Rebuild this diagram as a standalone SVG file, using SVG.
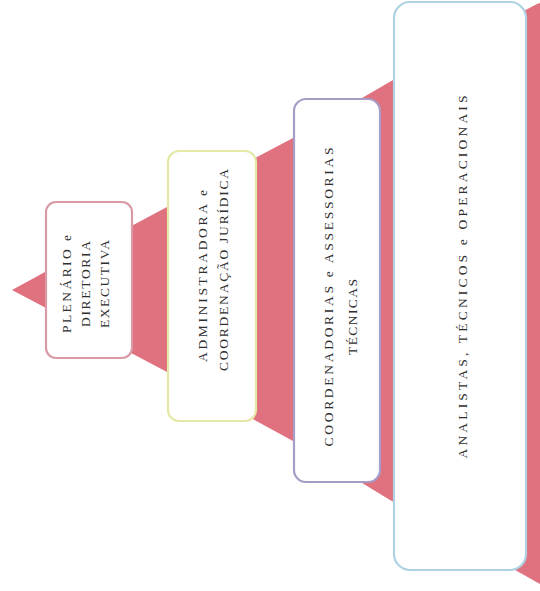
<svg xmlns="http://www.w3.org/2000/svg" width="540" height="591" viewBox="0 0 540 591">
<style>
.box{fill:#ffffff;stroke-width:2.2}
.t{font-family:"Liberation Serif",serif;font-size:13.5px;fill:#2e2e2e;text-anchor:middle}
</style>
<rect width="540" height="591" fill="#ffffff"/>
<g id="pyramid">
<polygon points="12,290 45,272 167,207 257,157 293,138 393,80 537,4 540,3 540,584 390,500 293,441 167,372" fill="#e0717f"/>
</g>
<g id="connectors"></g>
<g id="node1">
<rect class="box" x="46" y="202" width="86" height="156" rx="10" stroke="#d99aa6"/>
<text class="t" transform="translate(71,284) rotate(-90)" textLength="98" lengthAdjust="spacing">PLENÁRIO e</text>
<text class="t" transform="translate(90,284) rotate(-90)" textLength="86" lengthAdjust="spacing">DIRETORIA</text>
<text class="t" transform="translate(109,284) rotate(-90)" textLength="88" lengthAdjust="spacing">EXECUTIVA</text>
</g>
<g id="node2">
<rect class="box" x="168" y="151" width="88" height="270" rx="11" stroke="#e6e8a6"/>
<text class="t" transform="translate(207,276) rotate(-90)" textLength="172" lengthAdjust="spacing">ADMINISTRADORA e</text>
<text class="t" transform="translate(228,270) rotate(-90)" textLength="202" lengthAdjust="spacing">COORDENAÇÃO JURÍDICA</text>
</g>
<g id="node3">
<rect class="box" x="294" y="99" width="86" height="383" rx="12" stroke="#a69cc6"/>
<text class="t" transform="translate(333,297) rotate(-90)" textLength="299" lengthAdjust="spacing">COORDENADORIAS e ASSESSORIAS</text>
<text class="t" transform="translate(357,317) rotate(-90)" textLength="76" lengthAdjust="spacing">TÉCNICAS</text>
</g>
<g id="node4">
<rect class="box" x="394" y="2" width="132" height="568" rx="16" stroke="#aed2e4"/>
<text class="t" transform="translate(467,277) rotate(-90)" textLength="363" lengthAdjust="spacing">ANALISTAS, TÉCNICOS e OPERACIONAIS</text>
</g>
</svg>
